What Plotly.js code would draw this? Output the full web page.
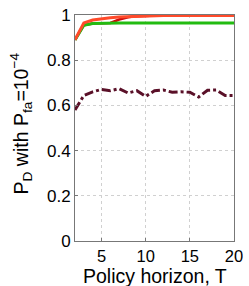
<!DOCTYPE html>
<html><head><meta charset="utf-8">
<script src="https://cdn.plot.ly/plotly-3.0.1.min.js"></script>
<style>html,body{margin:0;padding:0;background:#fff}</style>
</head><body><div id="c" style="width:249px;height:286px"></div>
<script>
var T = [2,3,4,5,6,7,8,9,10,11,12,13,14,15,16,17,18,19,20];
var darkRed = [0.89,0.955,0.962,0.964,0.965,0.98,0.99,0.995,0.997,0.998,0.999,0.999,0.999,0.999,0.999,0.999,0.999,0.999,0.999];
var green = [0.89,0.955,0.962,0.964,0.965,0.965,0.965,0.965,0.965,0.965,0.965,0.965,0.965,0.965,0.965,0.965,0.965,0.965,0.965];
var orange = [0.89,0.965,0.978,0.984,0.988,0.991,0.993,0.995,0.996,0.997,0.998,0.998,0.998,0.998,0.998,0.998,0.998,0.998,0.998];
var maroon = [0.58,0.644,0.66,0.671,0.665,0.674,0.655,0.665,0.64,0.665,0.668,0.658,0.66,0.658,0.637,0.667,0.668,0.644,0.644];
var xTitle = 'Policy horizon, T';
var yTitle = 'P<sub>D</sub> with P<sub>fa</sub>=10<sup>\u22124</sup>';
var data = [
 {x:T,y:darkRed,mode:'lines',line:{color:'#cc0a0a',width:2.5},hoverinfo:'none'},
 {x:T,y:green,mode:'lines',line:{color:'#22bb11',width:3},hoverinfo:'none'},
 {x:T,y:orange,mode:'lines',line:{color:'#ff4a2a',width:3},hoverinfo:'none'},
 {x:T,y:maroon,mode:'lines',line:{color:'#5a1028',width:3,dash:'dashdot'},hoverinfo:'none'}
];
var F = 'Liberation Sans, Arial, sans-serif';
var ax = {showline:true,mirror:true,linecolor:'#777',linewidth:1,ticks:'inside',ticklen:3,tickcolor:'#777',
  showgrid:true,gridcolor:'#d0d0d0',griddash:'dot',gridwidth:1,zeroline:false,
  tickfont:{family:F,size:17,color:'#000'}};
var layout = {
 width:249,height:286,margin:{l:75,r:15,t:15,b:45},showlegend:false,
 paper_bgcolor:'#fff',plot_bgcolor:'#fff',
 xaxis:Object.assign({},ax,{range:[2,20],tickvals:[5,10,15,20],tickfont:{family:F,size:16.5,color:'#000'}}),
 yaxis:Object.assign({},ax,{range:[0,1],dtick:0.2}),
 annotations:[
  {text:xTitle,xref:'paper',yref:'paper',x:0.5,y:-0.157,xanchor:'center',yanchor:'middle',
   borderpad:0,showarrow:false,font:{family:F,size:19.5,color:'#000'}},
  {text:yTitle,xref:'paper',yref:'paper',x:-0.34,y:0.52,xanchor:'center',yanchor:'middle',textangle:-90,
   borderpad:0,showarrow:false,font:{family:F,size:19.5,color:'#000'}}
 ]
};
Plotly.newPlot('c',data,layout,{staticPlot:true});
</script></body></html>
